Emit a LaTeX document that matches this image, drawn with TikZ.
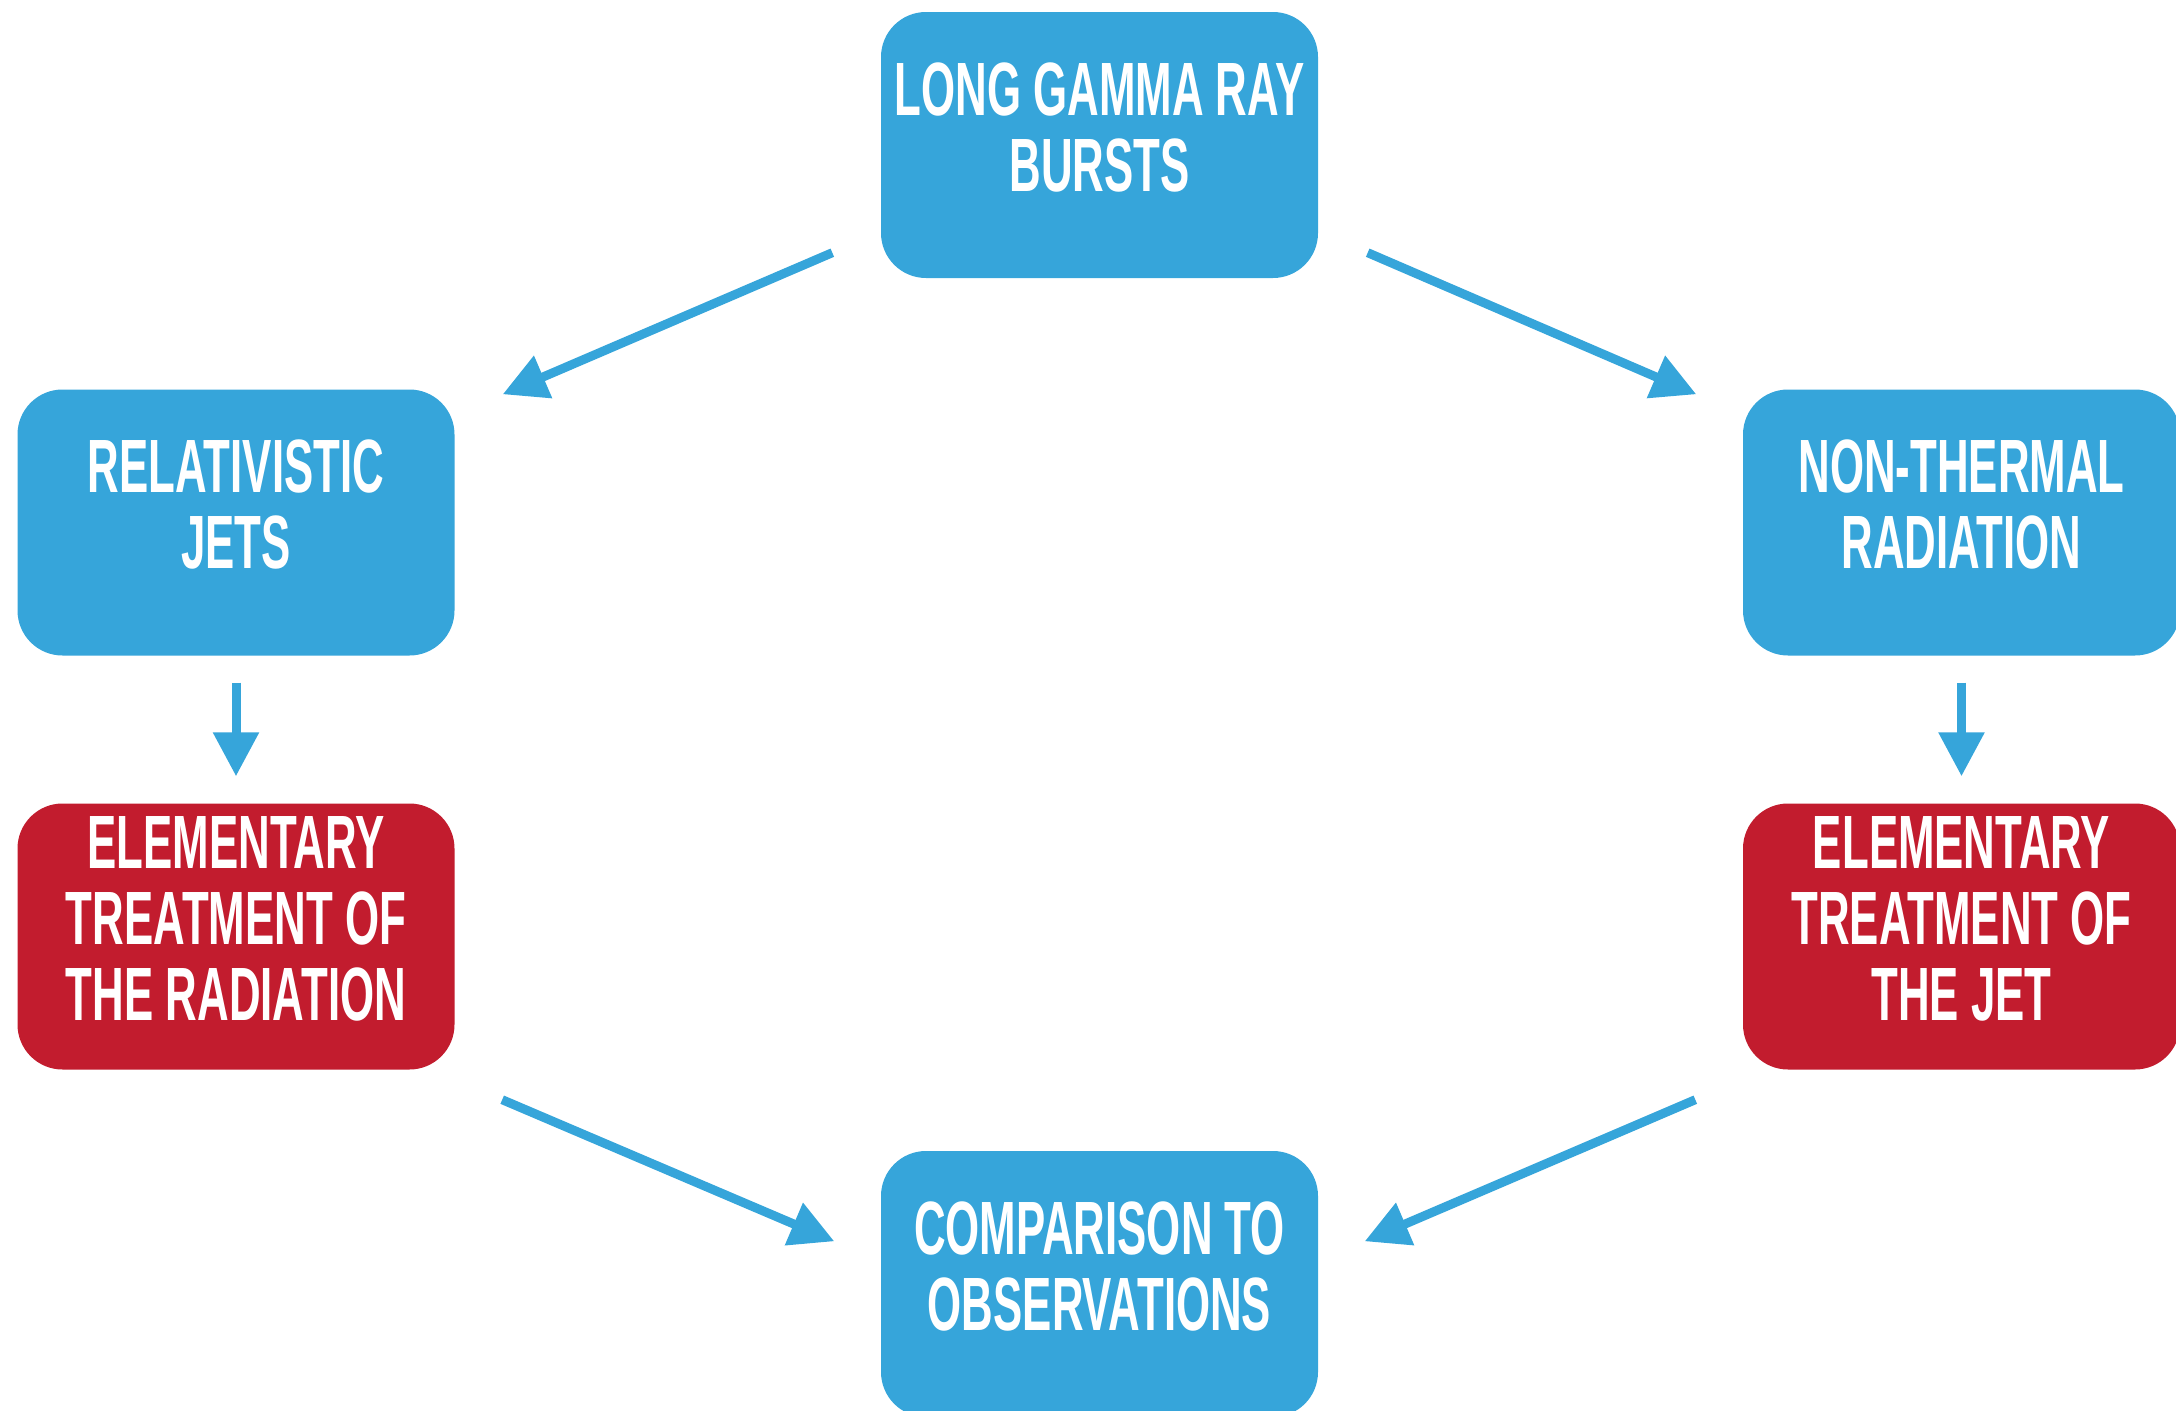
\documentclass[tikz,border=0pt]{standalone}
\usepackage{fontspec}
\setmainfont[FakeStretch=0.58]{Liberation Sans}
\usepackage{tikz}
\usetikzlibrary{arrows.meta,positioning}
\definecolor{bluec}{HTML}{36A5DA}
\definecolor{redc}{HTML}{C21C2E}
\tikzset{
  box/.style={fill=bluec,rounded corners=4.5mm,minimum width=4.37cm,minimum height=2.66cm,
    inner sep=2pt,align=center,text=white,font=\fontsize{21.5}{21.6}\selectfont\bfseries,
    execute at end node={\rule[-3.6mm]{0pt}{3.6mm}}},
  redbox/.style={box,fill=redc},
  ar/.style={-{Triangle[length=4.4mm,width=4.4mm]},line width=0.9mm,bluec}
}
\begin{document}
\begin{tikzpicture}
\useasboundingbox (0,0) rectangle (21.76,14.10);
% boxes
\node[box] (lgrb) at (10.995,12.65) {LONG GAMMA RAY\\BURSTS};
\node[box] (jets) at (2.36,8.875) {RELATIVISTIC\\JETS};
\node[box] (ntr) at (19.615,8.875) {NON-THERMAL\\RADIATION};
\node[redbox] (etrad) at (2.36,4.735) {ELEMENTARY\\TREATMENT OF\\THE RADIATION};
\node[redbox] (etjet) at (19.615,4.735) {ELEMENTARY\\TREATMENT OF\\THE JET};
\node[box] (obs) at (10.995,1.26) {COMPARISON TO\\OBSERVATIONS};
% arrows
\draw[ar] ([shift={(-0.48,0.26)}]lgrb.south west) -- ([shift={(0.475,-0.055)}]jets.north east);
\draw[ar] ([shift={(0.49,0.26)}]lgrb.south east) -- ([shift={(-0.46,-0.055)}]ntr.north west);
\draw[ar,shorten <=2.65mm,shorten >=2.65mm] (jets) -- (etrad);
\draw[ar,shorten <=2.65mm,shorten >=2.65mm] (ntr) -- (etjet);
\draw[ar] ([shift={(0.47,-0.295)}]etrad.south east) -- ([shift={(-0.46,-0.91)}]obs.north west);
\draw[ar] ([shift={(-0.47,-0.295)}]etjet.south west) -- ([shift={(0.46,-0.91)}]obs.north east);
\end{tikzpicture}
\end{document}
